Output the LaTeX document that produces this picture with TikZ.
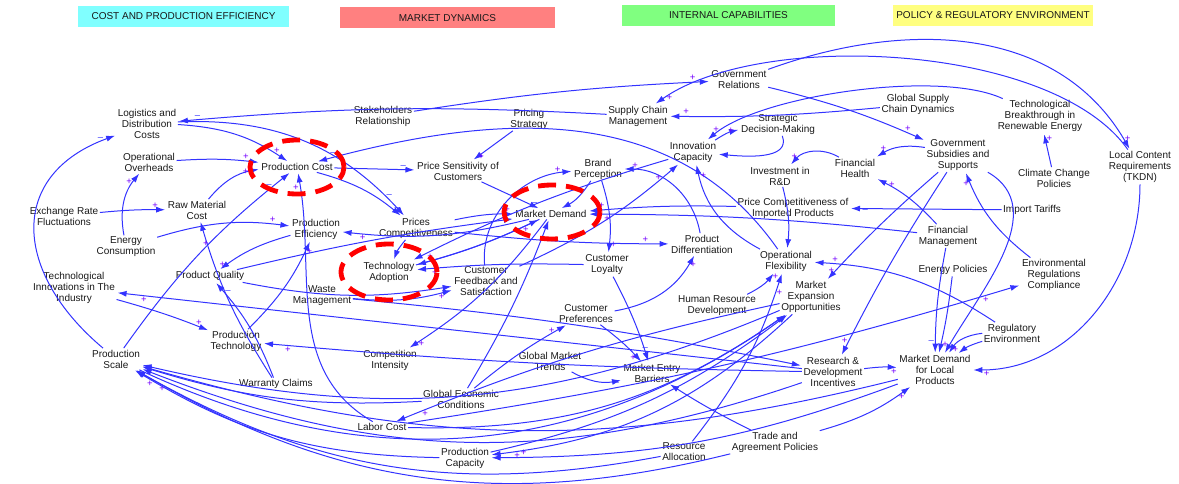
\documentclass[tikz,border=0pt]{standalone}
\usepackage{fontspec}
\setmainfont{Liberation Sans}
\usepackage{tikz}
\usetikzlibrary{arrows.meta}
\definecolor{cldLink}{rgb}{0.2,0.2,1}
\definecolor{cldPlus}{rgb}{0.45,0,1}
\definecolor{cldText}{rgb}{0.1,0.1,0.1}
\definecolor{hdCost}{rgb}{0.5,1,1}
\definecolor{hdMarket}{rgb}{1,0.5,0.5}
\definecolor{hdInternal}{rgb}{0.5,1,0.5}
\definecolor{hdPolicy}{rgb}{1,1,0.5}
\definecolor{loopRed}{rgb}{1,0,0}
\tikzstyle{var} = [align=center, text=cldText, font={\fontsize{10}{11}\selectfont}, inner sep=1.5pt]
\tikzstyle{header} = [font={\fontsize{10}{11}\selectfont}, text=cldText, minimum height=21pt, inner sep=0pt]
\tikzstyle{link} = [draw=cldLink, line width=1pt, -{Latex[length=9pt,width=6pt]}, shorten >=1pt]
\tikzstyle{plus} = [text=cldPlus, font={\fontsize{9.5}{9}\selectfont}, inner sep=1pt]
\tikzstyle{minus} = [text=cldLink, font={\fontsize{9.5}{9}\selectfont}, inner sep=1pt]
\tikzstyle{loop} = [draw=loopRed, line width=4.8pt, dash pattern=on 18pt off 10pt]

\begin{document}
\begin{tikzpicture}[x=1pt,y=-1pt]
\useasboundingbox (0,0) rectangle (1179,484);
\node[header,fill=hdCost,minimum width=211pt] (hcost) at (183.5,16.5) {COST AND PRODUCTION EFFICIENCY};
\node[header,fill=hdMarket,minimum width=215pt] (hmarket) at (447.5,18) {MARKET DYNAMICS};
\node[header,fill=hdInternal,minimum width=213pt] (hinternal) at (728.5,15.5) {INTERNAL CAPABILITIES};
\node[header,fill=hdPolicy,minimum width=200pt] (hpolicy) at (993,15.5) {POLICY \& REGULATORY ENVIRONMENT};

\node[var] (log) at (147,124) {Logistics and\\Distribution\\Costs};
\node[var] (ovh) at (149,162) {Operational\\Overheads};
\node[var] (exr) at (64,216) {Exchange Rate\\Fluctuations};
\node[var] (raw) at (197,210) {Raw Material\\Cost};
\node[var] (enc) at (126,247) {Energy\\Consumption};
\node[var] (tin) at (74,288) {Technological\\Innovations in The\\Industry};
\node[var] (pq) at (210,276) {Product Quality};
\node[var] (pc) at (297,167) {Production Cost};
\node[var] (pe) at (316,229) {Production\\Efficiency};
\node[var] (psc) at (458,171) {Price Sensitivity of\\Customers};
\node[var] (prc) at (416,228) {Prices\\Competitiveness};
\node[var] (ta) at (389,272) {Technology\\Adoption};
\node[var] (wm) at (322,296) {Waste\\Management};
\node[var] (cfs) at (486,281) {Customer\\Feedback and\\Satisfaction};
\node[var] (mdm) at (551,214) {Market Demand};
\node[var] (bp) at (598,169) {Brand\\Perception};
\node[var] (cl) at (607,265) {Customer\\Loyalty};
\node[var] (cp) at (586,314) {Customer\\Preferences};
\node[var] (pd) at (702,244) {Product\\Differentiation};
\node[var] (hrd) at (717,306) {Human Resource\\Development};
\node[var] (of) at (786,261) {Operational\\Flexibility};
\node[var] (meo) at (811,297) {Market\\Expansion\\Opportunities};
\node[var] (ird) at (780,176) {Investment in\\R\&D};
\node[var] (fh) at (855,168) {Financial\\Health};
\node[var] (pci) at (793,208) {Price Competitiveness of\\Imported Products};
\node[var] (inc) at (693,152) {Innovation\\Capacity};
\node[var] (sdm) at (778,124) {Strategic\\Decision-Making};
\node[var] (scm) at (638,116) {Supply Chain\\Management};
\node[var] (gr) at (739,80) {Government\\Relations};
\node[var] (sr) at (383,116) {Stakeholders\\Relationship};
\node[var] (ps) at (529,119) {Pricing\\Strategy};
\node[var] (gsc) at (918,104) {Global Supply\\Chain Dynamics};
\node[var] (tbr) at (1040,116) {Technological\\Breakthrough in\\Renewable Energy};
\node[var] (gss) at (958,155) {Government\\Subsidies and\\Supports};
\node[var] (ccp) at (1054,178) {Climate Change\\Policies};
\node[var] (lcr) at (1140,167) {Local Content\\Requirements\\(TKDN)};
\node[var] (it) at (1032,210) {Import Tariffs};
\node[var] (fm) at (948,236) {Financial\\Management};
\node[var] (ep) at (953,270) {Energy Policies};
\node[var] (erc) at (1054,275) {Environmental\\Regulations\\Compliance};
\node[var] (re) at (1012,333) {Regulatory\\Environment};
\node[var] (mdl) at (935,370) {Market Demand\\for Local\\Products};
\node[var] (rdi) at (833,372) {Research \&\\Development\\Incentives};
\node[var] (meb) at (652,373) {Market Entry\\Barriers};
\node[var] (gmt) at (550,361) {Global Market\\Trends};
\node[var] (tap) at (775,442) {Trade and\\Agreement Policies};
\node[var] (ra) at (684,452) {Resource\\Allocation};
\node[var] (pcap) at (465,458) {Production\\Capacity};
\node[var] (lc) at (382,427) {Labor Cost};
\node[var] (gec) at (461,399) {Global Economic\\Conditions};
\node[var] (ci) at (390,360) {Competition\\Intensity};
\node[var] (wc) at (276,384) {Warranty Claims};
\node[var] (pt) at (236,341) {Production\\Technology};
\node[var] (psl) at (116,359) {Production\\Scale};

\draw[link] (scm) to[bend right=4] node[minus,pos=.96,above]{\textendash} (log);
\draw[link] (sr) to[bend left=3] node[plus,pos=.95,above]{+} (gr);
\draw[link] (gr) to[out=20,in=120] node[plus,pos=.97,right]{+} (lcr);
\draw[link] (lcr) to[out=125,in=35,looseness=.7] node[plus,pos=.97,right]{+} (scm);
\draw[link] (gsc) to[bend left=3] node[plus,pos=.93,above]{+} (scm);
\draw[link] (tbr) to[out=155,in=40,looseness=.6] node[plus,pos=.95,above]{+} (inc);
\draw[link] (gr) to[bend left=5] node[plus,pos=.9,above]{+} (gss);
\draw[link] (ccp) -- node[plus,pos=.85,right]{+} (tbr);
\draw[link] (gss) to[bend right=20] node[plus,pos=.85,above]{+} (fh);
\draw[link] (fh) to[bend right=40] node[plus,pos=.9,above]{+} (ird);
\draw[link] (inc) to[bend left=10] node[plus,pos=.85,left]{+} (sdm);
\draw[link] (sdm) to[out=-70,in=-5] (inc);
\draw[link] (ps) -- node[plus,pos=.9,right]{+} (psc);
\draw[link] (pc) -- node[minus,pos=.85,above]{\textendash} (psc);
\draw[link] (pc) to[bend left=12] node[minus,pos=.9,right]{\textendash} (prc);
\draw[link] (log) to[bend left=15] node[plus,pos=.9,above]{+} (pc);
\draw[link] (log) to[bend left=25] node[minus,pos=.9,right]{\textendash} (prc);
\draw[link] (ovh) to[bend left=5] node[plus,pos=.85,above]{+} (pc);
\draw[link] (raw) to[bend left=20] node[plus,pos=.85,left]{+} (pc);
\draw[link] (exr) to[bend left=3] node[plus,pos=.85,above]{+} (raw);
\draw[link] (enc) to[bend left=25] node[plus,pos=.85,left]{+} (ovh);
\draw[link] (enc) to[bend left=12] node[plus,pos=.88,above]{+} (pe);
\draw[link] (psl) to[bend left=8] node[minus,pos=.92,left]{\textendash} (pc);
\draw[link] (lc) to[out=150,in=-80] node[plus,pos=.95,left]{+} (pc);
\draw[link] (of) to[out=125,in=15] node[minus,pos=.97,above]{\textendash} (pc);
\draw[link] (psc) -- node[minus,pos=.85,right]{\textendash} (mdm);
\draw[link] (prc) to[bend left=6] node[plus,pos=.9,above]{+} (mdm);
\draw[link] (ta) to[bend right=5] node[plus,pos=.9,below]{+} (mdm);
\draw[link] (pq) to[bend left=3] (mdm);
\draw[link] (bp) to[bend left=15] (mdm);
\draw[link] (bp) to[bend left=12] node[plus,pos=.9,right]{+} (cl);
\draw[link] (cfs) to[out=95,in=185] node[plus,pos=.9,above]{+} (bp);
\draw[link] (prc) to[bend right=3] node[plus,pos=.9,above]{+} (pd);
\draw[link] (cp) to[bend right=25] node[plus,pos=.9,right]{+} (pd);
\draw[link] (pd) to[out=100,in=0] node[plus,pos=.9,above]{+} (bp);
\draw[link] (cfs) to[bend right=8] node[plus,pos=.9,left]{+} (inc);
\draw[link] (of) to[bend left=25] node[plus,pos=.9,right]{+} (inc);
\draw[link] (ird) to[bend left=10] (of);
\draw[link] (hrd) to[bend right=12] node[plus,pos=.88,right]{+} (of);
\draw[link] (ra) to[bend right=10] node[plus,pos=.9,right]{+} (of);
\draw[link] (it) -- node[minus,pos=.9,below]{\textendash} (pci);
\draw[link] (pci) to[bend right=3] node[plus,pos=.92,above]{+} (mdm);
\draw[link] (fm) to[bend right=3] node[plus,pos=.95,below]{+} (mdm);
\draw[link] (fm) to[bend right=10] node[plus,pos=.85,right]{+} (fh);
\draw[link] (erc) to[bend left=15] node[plus,pos=.9,left]{+} (gss);
\draw[link] (gss) to[bend right=3] node[plus,pos=.93,left]{+} (rdi);
\draw[link] (gss) to[bend right=3] node[plus,pos=.93,left]{+} (meo);
\draw[link] (re) to[bend right=15] node[plus,pos=.9,above]{+} (of);
\draw[link] (mdm) to[bend left=5] node[plus,pos=.9,above]{+} (ta);
\draw[link] (cl) to[bend right=3] node[plus,pos=.9,below]{+} (ta);
\draw[link] (inc) to[bend right=5] (ta);
\draw[link] (prc) to[bend right=10] (ta);
\draw[link] (mdm) to[bend left=10] node[plus,pos=.9,below]{+} (pe);
\draw[link] (pe) to[bend right=10] node[plus,pos=.9,left]{+} (pq);
\draw[link] (wc) to[bend right=10] node[minus,pos=.9,right]{\textendash} (pq);
\draw[link] (wc) to[bend left=8] node[plus,pos=.9,below]{+} (raw);
\draw[link] (tin) to[bend left=3] node[plus,pos=.9,above]{+} (pt);
\draw[link] (pt) to[bend right=10] node[plus,pos=.9,right]{+} (pe);
\draw[link] (rdi) -- node[plus,pos=.96,below]{+} (tin);
\draw[link] (rdi) to[bend left=2] node[plus,pos=.96,below]{+} (pt);
\draw[link] (wm) to[bend left=3] (rdi);
\draw[link] (pq) to[bend right=10] (cfs);
\draw[link] (wm) to[bend right=10] node[plus,pos=.9,below]{+} (cfs);
\draw[link] (gec) to[bend left=5] node[plus,pos=.9,left]{+} (cp);
\draw[link] (gec) to[bend right=5] (mdm);
\draw[link] (mdm) to[bend left=10] node[plus,pos=.93,below]{+} (ci);
\draw[link] (meo) to[bend right=5] node[plus,pos=.93,below]{+} (lc);
\draw[link] (cp) to[bend left=5] node[plus,pos=.9,left]{+} (meb);
\draw[link] (cl) to[bend left=5] node[minus,pos=.9,above]{\textendash} (meb);
\draw[link] (gmt) to[bend right=20] node[minus,pos=.9,below]{\textendash} (meb);
\draw[link] (tap) to[bend left=3] (meb);
\draw[link] (fm) to[bend right=5] node[minus,pos=.9,left]{\textendash} (mdl);
\draw[link] (ep) to[bend left=3] node[plus,pos=.9,right]{+} (mdl);
\draw[link] (re) to[bend right=25] node[plus,pos=.9,right]{+} (mdl);
\draw[link] (re) to[bend right=10] (mdl);
\draw[link] (gss) to[out=-30,in=60] (mdl);
\draw[link] (lcr) to[out=-90,in=0] node[plus,pos=.95,below]{+} (mdl);
\draw[link] (rdi) to[bend left=5] node[plus,pos=.9,below]{+} (mdl);
\draw[link] (tap) to[bend right=10] node[plus,pos=.9,below]{+} (mdl);
\draw[link] (psl) to[bend right=30] node[plus,pos=.95,right]{+} (meo);
\draw[link] (pcap) to[bend right=12] (meo);
\draw[link] (lc) to[bend right=18] (meo);
\draw[link] (lc) to[bend right=4] node[plus,pos=.95,below]{+} (erc);
\draw[link] (mdl) to[bend left=15] (psl);
\draw[link] (meo) to[bend left=18] (psl);
\draw[link] (rdi) to[bend left=20] (psl);
\draw[link] (tap) to[bend left=22] (psl);
\draw[link] (ra) to[bend left=20] node[plus,pos=.95,below]{+} (psl);
\draw[link] (pcap) to[bend left=15] node[plus,pos=.95,below]{+} (psl);
\draw[link] (gec) to[bend left=10] (psl);
\draw[link] (mdl) to[bend left=10] node[plus,pos=.93,above]{+} (pcap);
\draw[link] (meo) to[bend left=18] node[plus,pos=.93,below]{+} (pcap);
\draw[link] (psl) to[out=140,in=200,looseness=1.4] node[minus,pos=.95,above]{\textendash} (log);

\draw[loop] (297,167) ellipse (47pt and 27pt);
\draw[loop] (552,212) ellipse (48pt and 27pt);
\draw[loop] (389,272) ellipse (48pt and 28pt);
\end{tikzpicture}
\end{document}
